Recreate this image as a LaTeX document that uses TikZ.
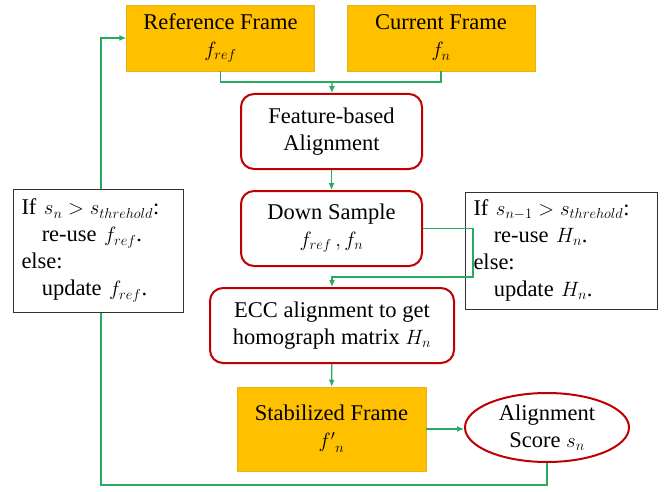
\documentclass[tikz,border=0pt]{standalone}
\usepackage{fontspec}
\setmainfont{Liberation Serif}
\usetikzlibrary{arrows.meta,positioning,shapes.geometric}
\definecolor{frameorange}{RGB}{255,192,0}
\definecolor{boxred}{RGB}{192,0,0}
\definecolor{linkgreen}{RGB}{40,170,95}

\begin{document}
\begin{tikzpicture}[x=1pt,y=-1pt,
every node/.style={font=\fontsize{22.5}{27}\selectfont, align=center, inner sep=2pt},
frame/.style={rectangle, fill=frameorange, draw=frameorange!80!gray, line width=0.5pt},
process/.style={rectangle, rounded corners=13pt, draw=boxred, line width=2pt, fill=white},
decision/.style={rectangle, draw=black!80, line width=1pt, fill=white, align=left, inner xsep=8pt},
link/.style={draw=linkgreen, line width=1.2pt},
arrow/.style={link, -{Latex[length=7pt,width=6pt]}}]
\useasboundingbox (0,0) rectangle (666,492);

% frames on top
\node[frame, minimum width=188pt, minimum height=66pt] (ref) at (220.5,38) {Reference Frame\\$f_{ref}$};
\node[frame, minimum width=188pt, minimum height=66pt] (cur) at (441,38) {Current Frame\\$f_n$};

% main column
\node[process, minimum width=181pt, minimum height=75pt] (feat) at (331.5,131.5) {Feature-based\\Alignment};
\node[process, minimum width=181pt, minimum height=75pt] (down) at (331.5,228.5) {Down Sample\\$f_{ref}\,, f_n$};
\node[process, minimum width=244pt, minimum height=75pt] (ecc) at (332,325.5) {ECC alignment to get\\homograph matrix $H_n$};
\node[frame, minimum width=189pt, minimum height=84pt] (stab) at (331.5,429) {Stabilized Frame\\${f'}_n$};
\node[process, ellipse, rounded corners=0pt, inner sep=0pt, minimum width=164pt, minimum height=69pt] (score) at (547,427.5) {Alignment\\Score $s_n$};

% right check
\node[decision, text width=176pt, minimum height=117pt] (hcheck) at (561.5,250.5) {If $s_{n-1} > s_{threhold}$:\\\hspace*{0.9em}re-use $H_n$.\\else:\\\hspace*{0.9em}update $H_n$.};

\coordinate (merge) at (332,82);
\coordinate (r1) at (473,277);
\coordinate (c1) at (101,485);

\draw[link] (ref.south) |- (merge) -| (cur.south);
\draw[arrow] (merge) -- (feat);
\draw[arrow] (feat) -- (down);
\draw[arrow] (down.east) -| (r1) -| (ecc.north);
\draw[arrow] (ecc) -- (stab);
\draw[arrow] (stab.east) -- (stab.east -| score.west);
\draw[arrow] (score.south) |- (c1) |- (ref.west);

% left check
\node[decision, text width=154pt, minimum height=123pt] (fcheck) at (98.5,250.5) {If $s_n > s_{threhold}$:\\\hspace*{0.9em}re-use $f_{ref}$.\\else:\\\hspace*{0.9em}update $f_{ref}$.};
\end{tikzpicture}
\end{document}
